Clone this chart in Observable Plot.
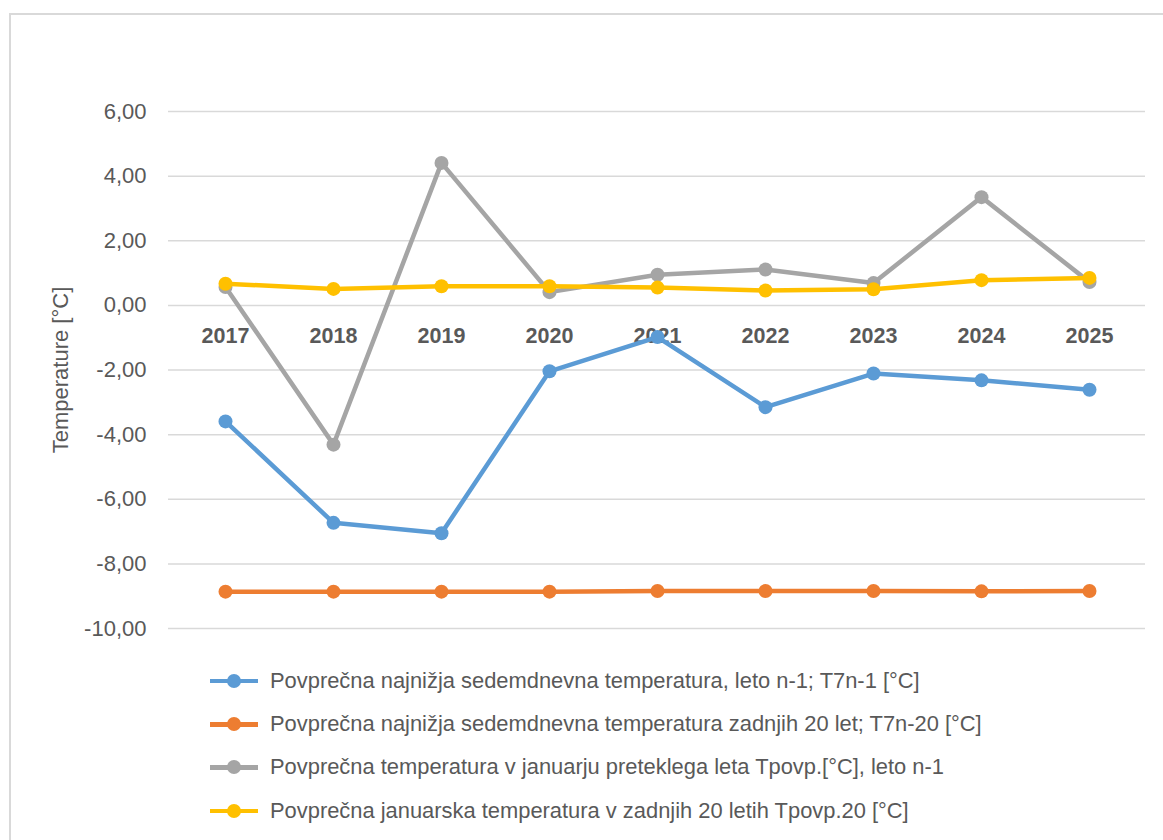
<!DOCTYPE html>
<html>
<head>
<meta charset="utf-8">
<script src="https://cdn.jsdelivr.net/npm/d3@7"></script>
<script src="https://cdn.jsdelivr.net/npm/@observablehq/plot@0.6"></script>
<style>
  html, body { margin: 0; padding: 0; background: #fff; overflow: hidden; }
  #wrap { position: relative; width: 1163px; height: 840px; font-family: "Liberation Sans", Arial, sans-serif; }
  #frame { position: absolute; left: 9px; top: 13px; width: 1200px; height: 900px; border: 2px solid #D9D9D9; box-sizing: border-box; }
  #chart { position: absolute; left: 0; top: 0; }
  #legend { position: absolute; left: 210px; top: 659px; color: #595959; font-size: 21.9px; }
  .item { display: flex; align-items: center; height: 43.4px; white-space: nowrap; }
  .sw { position: relative; width: 48px; height: 14px; margin-right: 12px; }
  .sw .ln { position: absolute; left: 0; right: 0; top: 5px; height: 4.5px; }
  .sw .mk { position: absolute; left: 17px; top: 0; width: 14px; height: 14px; border-radius: 50%; }
</style>
</head>
<body>
<div id="wrap">
  <div id="frame"></div>
  <div id="chart"></div>
  <div id="legend"></div>
</div>
<script>
const years = ["2017","2018","2019","2020","2021","2022","2023","2024","2025"];
const seriesNames = [
  "Povprečna najnižja sedemdnevna temperatura, leto n-1; T7n-1 [°C]",
  "Povprečna najnižja sedemdnevna temperatura zadnjih 20 let; T7n-20 [°C]",
  "Povprečna temperatura v januarju preteklega leta Tpovp.[°C], leto n-1",
  "Povprečna januarska temperatura v zadnjih 20 letih Tpovp.20 [°C]"
];
const seriesColors = ["#5B9BD5", "#ED7D31", "#A5A5A5", "#FFC000"];
const t7n1   = [-3.59, -6.73, -7.05, -2.04, -0.98, -3.15, -2.11, -2.32, -2.61];
const t7n20  = [-8.86, -8.86, -8.86, -8.86, -8.84, -8.84, -8.84, -8.85, -8.84];
const tpovp  = [0.57, -4.31, 4.41, 0.41, 0.95, 1.11, 0.69, 3.35, 0.72];
const tpovp20 = [0.67, 0.51, 0.59, 0.59, 0.55, 0.46, 0.50, 0.78, 0.85];
const yTicks = [-10, -8, -6, -4, -2, 0, 2, 4, 6];
const categoryAxisAt = 0;
const yLabel = "Temperature [°C]";

const allSeries = [t7n1, t7n20, tpovp, tpovp20];
const rows = allSeries.map((vals, i) => years.map((yr, j) => ({ year: yr, value: vals[j], series: seriesNames[i] })));

const fmt = d => d.toFixed(2).replace(".", ",");

const marks = [
  Plot.gridY(yTicks, { stroke: "#D9D9D9", strokeOpacity: 1, strokeWidth: 1.5 }),
  Plot.axisY(yTicks, { tickSize: 0, tickPadding: 22, tickFormat: fmt, fontSize: 22, color: "#595959",
    label: yLabel, labelAnchor: "center", labelArrow: "none", labelOffset: 116 }),
  Plot.text(years, { x: d => d, y: () => categoryAxisAt, dy: 31, fontWeight: "bold", fontSize: 21.5, fill: "#595959" })
];
rows.forEach((data, i) => {
  marks.push(Plot.line(data, { x: "year", y: "value", stroke: seriesColors[i], strokeWidth: 4.5 }));
  marks.push(Plot.dot(data, { x: "year", y: "value", fill: seriesColors[i], r: 7 }));
});

const chart = Plot.plot({
  width: 1163,
  height: 650,
  marginLeft: 168,
  marginRight: 18,
  marginTop: 111,
  marginBottom: 22,
  style: { fontFamily: "Liberation Sans, Arial, sans-serif", background: "transparent", color: "#595959" },
  x: { type: "point", domain: years, padding: 0.5, axis: null },
  y: { domain: [-10, 6] },
  marks
});
document.getElementById("chart").appendChild(chart);

const legend = document.getElementById("legend");
seriesNames.forEach((name, i) => {
  const it = document.createElement("div");
  it.className = "item";
  it.innerHTML = `<div class="sw"><div class="ln" style="background:${seriesColors[i]}"></div><div class="mk" style="background:${seriesColors[i]}"></div></div><span>${name}</span>`;
  legend.appendChild(it);
});
</script>
</body>
</html>
